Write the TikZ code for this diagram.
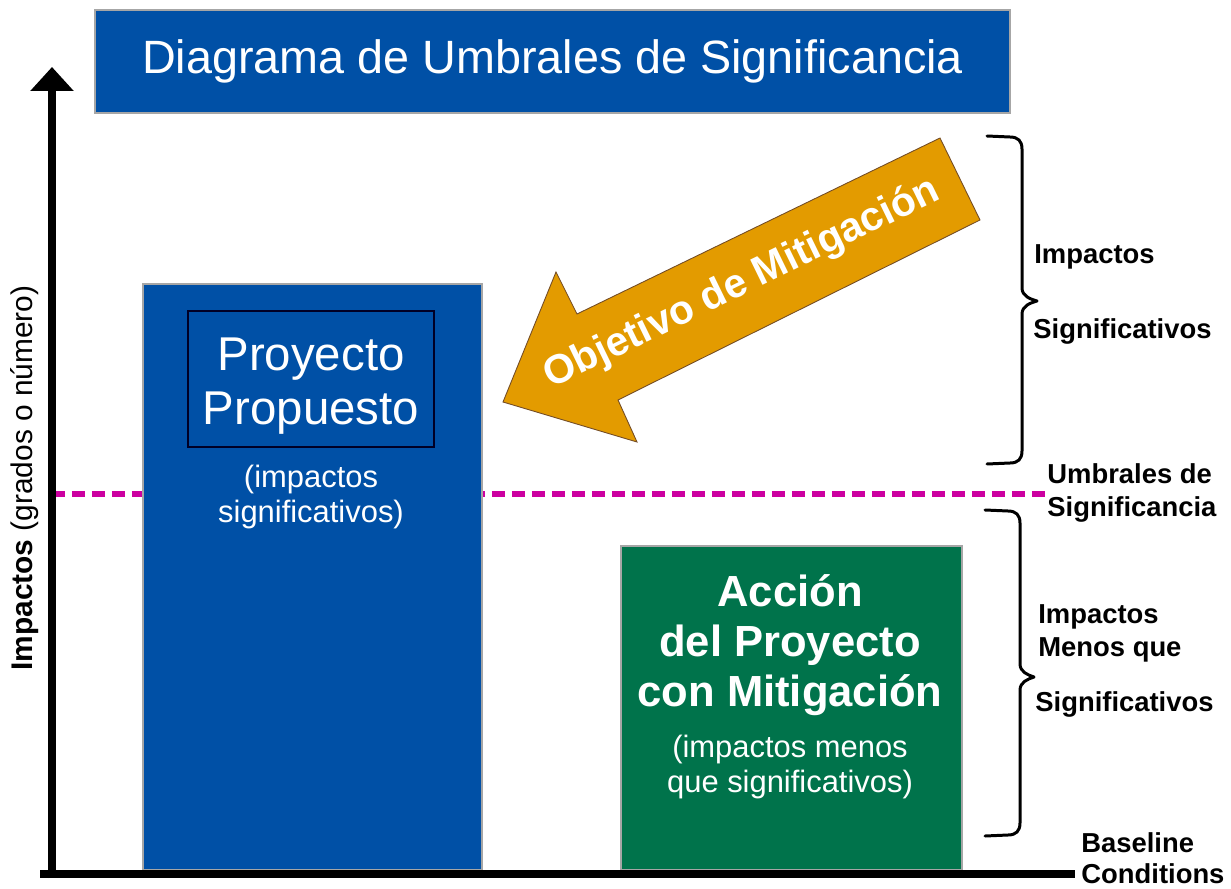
\documentclass[tikz,border=0pt]{standalone}
\usepackage{fontspec}
\setmainfont{Liberation Sans}
\usetikzlibrary{positioning, arrows.meta}

\definecolor{barblue}{HTML}{0050A6}
\definecolor{bargreen}{HTML}{00734B}
\definecolor{goalorange}{HTML}{E39B00}
\definecolor{threshmagenta}{HTML}{CC00A0}

\begin{document}
\begin{tikzpicture}[x=0.02cm, y=-0.02cm,
    bar/.style={rectangle, draw=gray!70, line width=0.7pt, inner sep=0pt},
    whitetext/.style={text=white, align=center, inner sep=0pt},
    side/.style={anchor=west, align=left, inner sep=0pt, font=\fontsize{15.6}{18.7}\selectfont\bfseries},
    axis/.style={line width=4.5pt},
    brace/.style={line width=1.7pt, line cap=round, line join=round},
    threshold/.style={threshmagenta, line width=3.4pt, dash pattern=on 0.26cm off 0.14cm}]
  \useasboundingbox (0,0) rectangle (1231,889);

  % title
  \node[bar, fill=barblue, minimum width=18.3cm, minimum height=2.06cm, text=white,
        font=\fontsize{26.6}{30}\selectfont] (title) at (552.5,61.5) {Diagrama de Umbrales de Significancia};

  % significance threshold
  \coordinate (t0) at (52,494);
  \coordinate (t1) at (1045,494);
  \draw[threshold] (t0) -- (t1);

  % proposed project
  \node[bar, fill=barblue, minimum width=6.78cm, minimum height=11.72cm] (prop) at (312.5,577) {};
  \node[draw=black!85!blue, line width=0.7pt, minimum width=4.92cm, minimum height=2.72cm] (propbox) at (311,379) {};
  \node[whitetext, font=\fontsize{27}{31}\selectfont] (proptxt) at (311,386) {Proyecto\\Propuesto};
  \node[whitetext, font=\fontsize{17.6}{20}\selectfont] (propsub) at (311,497) {(impactos\\significativos)};

  % project with mitigation
  \node[bar, fill=bargreen, minimum width=6.82cm, minimum height=6.48cm] (mitig) at (791.5,708) {};
  \node[whitetext, font=\fontsize{24.8}{28.3}\selectfont\bfseries] (mitigtxt) at (790,645) {Acción\\del Proyecto\\con Mitigación};
  \node[whitetext, font=\fontsize{17.6}{20}\selectfont] (mitigsub) at (790,767) {(impactos menos\\que significativos)};

  % mitigation goal arrow
  \filldraw[fill=goalorange, draw=brown!60!black, line width=0.5pt]
    (940,138) -- (980,220) -- (618,400) -- (637,442) -- (503,402) -- (556,272) -- (577,314) -- cycle;
  \node[rotate=26, text=white, font=\fontsize{23.2}{26}\selectfont\bfseries] (goal) at (742,284) {Objetivo de Mitigación};

  % braces
  \draw[brace] (987,136) -- (1010,137) .. controls (1018,137) and (1022,141) .. (1022,149) -- (1022,288)
    .. controls (1022,296) and (1030,299) .. (1037,301) .. controls (1030,303) and (1022,306) .. (1022,314)
    -- (1022,451) .. controls (1022,459) and (1018,463) .. (1010,463) -- (987,464);
  \draw[brace] (985,510) -- (1008,511) .. controls (1016,511) and (1020,515) .. (1020,523) -- (1020,664)
    .. controls (1020,672) and (1028,675) .. (1034,677) .. controls (1028,679) and (1020,682) .. (1020,690)
    -- (1020,823) .. controls (1020,831) and (1016,835) .. (1008,835) -- (985,836);

  % side labels
  \node[side] (sig1) at (1034,257) {Impactos};
  \node[side] (sig2) at (1033,331) {Significativos};
  \node[side] (thr) at (1047,493) {Umbrales de\\Significancia};
  \node[side] (less) at (1038,633) {Impactos\\Menos que};
  \node[side] (less2) at (1035,704) {Significativos};
  \node[side, font=\fontsize{15.6}{17.5}\selectfont\bfseries] (base) at (1081,858) {Baseline\\Conditions};

  % axes
  \coordinate (origin) at (52,878);
  \coordinate (ytop) at (52,67);
  \coordinate (xstart) at (40,874);
  \coordinate (xend) at (1075,874);
  \draw[axis, -{Triangle[width=0.84cm, length=0.48cm]}] (origin) -- (ytop);
  \draw[axis] (xstart) -- (xend);
  \node[rotate=90, font=\fontsize{17}{20}\selectfont] (ylab) at (25,478) {\textbf{Impactos} (grados o número)};
\end{tikzpicture}
\end{document}
